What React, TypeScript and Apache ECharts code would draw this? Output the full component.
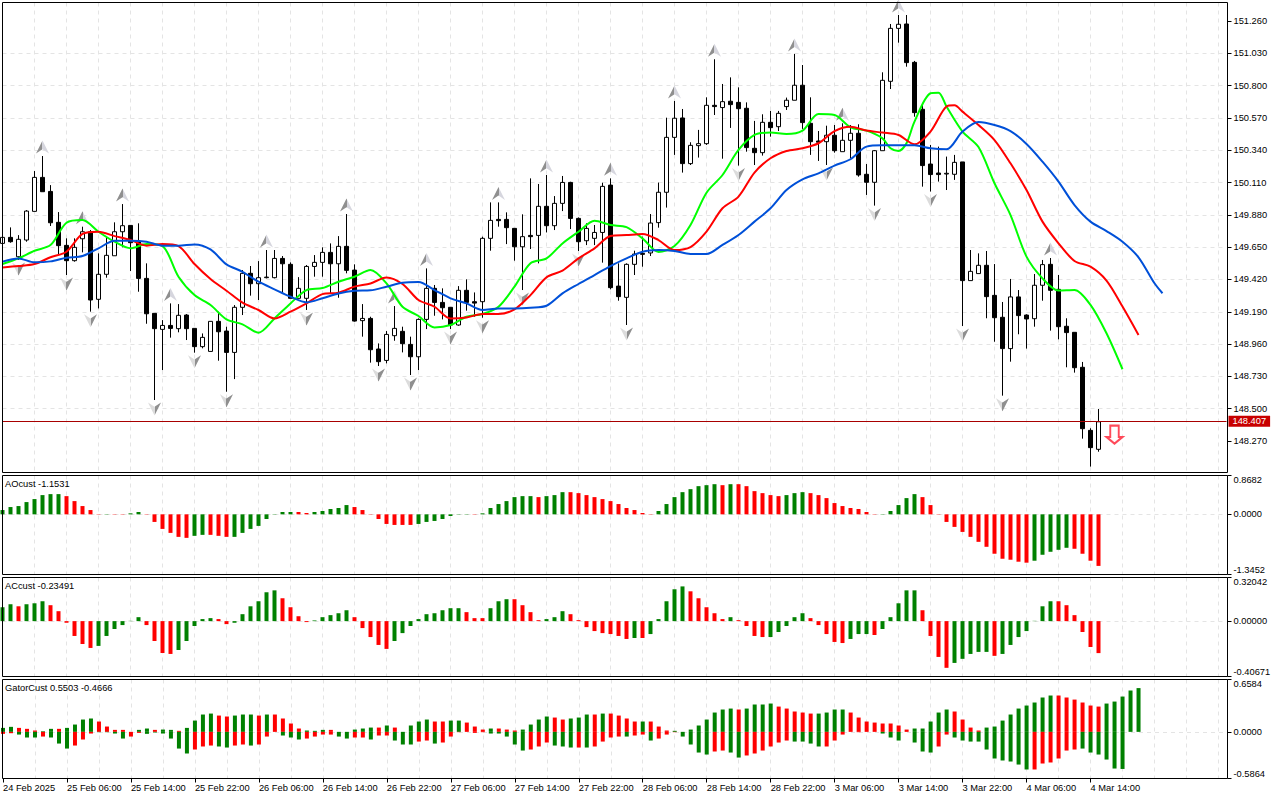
import React, { useEffect, useRef } from "react";
import * as echarts from "echarts";

const tickLabels = ["24 Feb 2025","25 Feb 06:00","25 Feb 14:00","25 Feb 22:00","26 Feb 06:00","26 Feb 14:00","26 Feb 22:00","27 Feb 06:00","27 Feb 14:00","27 Feb 22:00","28 Feb 06:00","28 Feb 14:00","28 Feb 22:00","3 Mar 06:00","3 Mar 14:00","3 Mar 22:00","4 Mar 06:00","4 Mar 14:00"];
const priceTicks = [151.26,151.03,150.8,150.57,150.34,150.11,149.88,149.65,149.42,149.19,148.96,148.73,148.5,148.27];
const lastPrice = 148.407;

const opens = [
149.677,149.720,149.582,149.701,149.905,150.147,150.047,149.827,149.663,149.554,
149.710,149.760,149.279,149.457,149.589,149.760,149.805,149.689,149.428,149.179,
149.065,149.093,149.070,149.167,149.072,148.942,148.908,149.122,149.053,148.901,
149.222,149.464,149.390,149.433,149.433,149.570,149.528,149.286,149.286,149.513,
149.542,149.613,149.532,149.656,149.487,149.127,149.143,148.925,148.844,149.020,
149.051,148.958,148.870,149.136,149.357,149.257,149.222,149.096,149.343,149.262,
149.262,149.713,149.848,149.848,149.784,149.653,149.734,149.734,149.941,149.803,
149.962,150.111,149.855,149.696,149.713,149.755,150.092,149.373,149.293,149.528,
149.606,149.609,149.825,150.041,150.432,150.570,150.245,150.373,150.387,150.660,
150.644,150.689,150.681,150.639,150.354,150.323,150.539,150.508,150.651,150.696,
150.803,150.532,150.406,150.401,150.447,150.330,150.411,150.461,150.169,150.112,
150.337,150.831,151.208,151.239,150.966,150.632,150.242,150.178,150.171,150.169,
150.257,149.412,149.462,149.521,149.307,149.151,148.928,149.296,149.167,149.141,
149.379,149.528,149.350,149.087,149.044,148.795,148.346,148.211];
const closes = [
149.720,149.689,149.706,149.907,150.147,150.045,149.824,149.661,149.554,149.649,
149.760,149.274,149.457,149.592,149.760,149.803,149.682,149.428,149.176,149.070,
149.093,149.072,149.165,149.070,148.942,149.008,149.122,149.048,148.901,149.222,
149.464,149.390,149.433,149.437,149.570,149.532,149.286,149.357,149.513,149.542,
149.613,149.532,149.656,149.485,149.124,149.143,148.920,148.835,149.029,149.072,
148.963,148.870,149.136,149.357,149.257,149.219,149.096,149.343,149.257,149.252,
149.713,149.841,149.839,149.789,149.653,149.725,149.725,149.941,149.803,149.962,
150.111,149.855,149.689,149.784,149.755,150.083,149.362,149.298,149.528,149.601,
149.599,149.822,150.041,150.432,150.568,150.245,150.375,150.387,150.660,150.651,
150.686,150.665,150.636,150.359,150.323,150.539,150.501,150.603,150.696,150.803,
150.537,150.401,150.397,150.447,150.337,150.411,150.461,150.164,150.112,150.337,
150.838,151.208,151.237,150.964,150.608,150.231,150.167,150.167,150.176,150.254,
149.412,149.478,149.521,149.298,149.148,148.928,149.296,149.163,149.139,149.379,
149.526,149.343,149.084,149.042,148.792,148.358,148.223,148.407];
const lows = [
149.672,149.682,149.559,149.689,149.905,150.045,149.801,149.594,149.452,149.547,
149.613,149.191,149.214,149.433,149.589,149.649,149.480,149.333,149.105,148.562,
148.775,149.006,149.044,148.989,148.899,148.930,148.908,148.842,148.621,148.711,
149.167,149.305,149.274,149.428,149.428,149.321,149.286,149.286,149.203,149.440,
149.440,149.321,149.290,149.464,149.120,149.013,148.828,148.804,148.823,148.984,
148.901,148.740,148.775,149.067,149.162,149.136,149.067,149.091,149.198,149.155,
149.148,149.625,149.796,149.672,149.554,149.345,149.637,149.535,149.755,149.772,
149.907,149.779,149.623,149.665,149.665,149.540,149.350,149.269,149.096,149.452,
149.511,149.587,149.789,149.932,150.307,150.181,150.235,150.288,150.378,150.591,
150.280,150.499,150.231,150.330,150.235,150.302,150.437,150.477,150.627,150.696,
150.492,150.307,150.264,150.235,150.323,150.330,150.283,150.152,150.022,149.946,
150.337,150.776,151.106,150.935,150.579,150.081,150.046,150.117,150.057,150.129,
149.089,149.412,149.462,149.144,148.977,148.593,148.835,149.030,148.928,149.084,
149.269,149.056,148.994,148.795,148.757,148.287,148.088,148.194];
const highs = [
149.725,149.791,149.736,149.914,150.192,150.299,150.092,149.900,149.713,149.713,
149.796,149.772,149.606,149.725,149.827,149.957,149.805,149.820,149.535,149.179,
149.131,149.250,149.245,149.174,149.072,149.036,149.122,149.191,149.084,149.238,
149.487,149.516,149.551,149.630,149.630,149.587,149.542,149.437,149.523,149.594,
149.649,149.677,149.729,149.886,149.528,149.245,149.155,148.965,149.053,149.231,
149.084,149.013,149.143,149.499,149.381,149.357,149.222,149.373,149.421,149.328,
149.725,149.969,149.969,149.898,149.784,149.884,150.140,150.100,150.164,150.014,
150.157,150.116,149.862,149.820,149.808,150.109,150.140,149.535,149.535,149.625,
149.725,149.886,150.110,150.572,150.691,150.634,150.397,150.485,150.717,150.988,
150.812,150.859,150.788,150.681,150.549,150.596,150.620,150.620,150.715,151.026,
150.947,150.717,150.477,150.515,150.520,150.532,150.520,150.525,150.242,150.342,
150.895,151.239,151.303,151.303,150.976,150.667,150.378,150.366,150.295,150.307,
150.257,149.630,149.606,149.623,149.530,149.260,149.424,149.345,149.172,149.459,
149.559,149.573,149.452,149.144,149.044,148.833,148.361,148.498];

// Alligator lines, read at every second bar, plus a few odd bars at sharp turns
const lipsEven = [149.530,149.570,149.625,149.665,149.824,149.843,149.760,149.689,149.642,149.672,149.658,149.440,149.309,149.238,149.136,149.101,149.041,149.143,149.250,149.345,149.359,149.404,149.440,149.487,149.392,149.226,149.160,149.079,149.096,149.155,149.174,149.226,149.369,149.535,149.570,149.677,149.760,149.839,149.808,149.793,149.713,149.616,149.658,149.808,150.038,150.164,150.342,150.449,150.466,150.456,150.480,150.598,150.591,150.504,150.480,150.425,150.335,150.544,150.746,150.651,150.473,150.363,150.105,149.879,149.583,149.428,149.341,149.345,149.239,149.037,148.781];
const lipsOdd = [[111,150.354],[113,150.390],[117,150.750]];
const teethEven = [149.506,149.516,149.530,149.578,149.618,149.744,149.760,149.729,149.701,149.661,149.672,149.658,149.530,149.423,149.340,149.255,149.203,149.143,149.191,149.250,149.316,149.326,149.369,149.392,149.435,149.388,149.274,149.226,149.143,149.150,149.174,149.174,149.207,149.309,149.435,149.483,149.570,149.642,149.729,149.736,149.744,149.701,149.630,149.651,149.761,149.927,150.010,150.181,150.283,150.335,150.354,150.390,150.477,150.508,150.480,150.466,150.449,150.382,150.473,150.651,150.615,150.520,150.413,150.247,150.057,149.832,149.678,149.552,149.511,149.412,149.227,149.025];
const teethOdd = [[119,150.660]];
const jawEven = [149.547,149.570,149.542,149.549,149.575,149.587,149.642,149.696,149.696,149.689,149.661,149.661,149.670,149.634,149.528,149.475,149.404,149.350,149.298,149.257,149.286,149.321,149.340,149.343,149.369,149.397,149.402,149.345,149.286,149.250,149.203,149.214,149.214,149.219,149.233,149.321,149.388,149.452,149.516,149.570,149.618,149.630,149.623,149.602,149.602,149.666,149.737,149.832,149.927,150.057,150.133,150.176,150.231,150.276,150.366,150.375,150.375,150.375,150.354,150.347,150.473,150.541,150.520,150.477,150.385,150.259,150.117,149.950,149.832,149.765,149.689,149.578,149.393];
const jawOdd = [[145,149.322]];

const upFractals = [5,10,15,21,33,43,49,53,62,68,76,84,89,99,105,112,131];
const downFractals = [2,8,11,19,24,28,38,47,51,56,60,65,72,78,92,103,109,116,120,125];
const sellArrow = { bar: 139, price: 148.316 };

const aoValues = [
.096,.163,.185,.274,.341,.43,.452,.452,.407,.296,
.185,.096,.007,-.007,.007,.007,.022,.052,.007,-.17,
-.326,-.415,-.504,-.526,-.481,-.459,-.459,-.481,-.504,-.504,
-.415,-.326,-.259,-.104,-.007,.052,.052,.052,.03,.052,
.074,.119,.141,.207,.163,.096,.007,-.104,-.215,-.237,
-.237,-.237,-.215,-.17,-.148,-.104,-.037,-.007,-.007,-.007,
.022,.141,.23,.296,.385,.407,.407,.385,.407,.43,
.496,.496,.474,.43,.385,.341,.296,.23,.141,.096,
.03,.007,.074,.23,.385,.496,.563,.63,.652,.674,
.652,.674,.674,.63,.519,.474,.43,.407,.43,.474,
.496,.474,.43,.363,.252,.185,.141,.119,.052,.007,
.007,.074,.207,.363,.452,.385,.207,.007,-.17,-.281,
-.393,-.504,-.615,-.726,-.881,-.993,-1.015,-1.059,-1.081,-1.037,
-.904,-.837,-.793,-.748,-.77,-.881,-1.037,-1.1531];
const aoColors = "ggggggggrr"+"rrrgrrggrr"+"rrrrggrrrg"+"gggggggrrg"+"ggggrrrrrr"+"rrgggggggr"+"gggggggrgg"+"grrrrrrrrr"+"rrgggggggg"+"rgrrrrrrgg"+"grrrrrrrrr"+"gggggrrrrr"+"rrrrrrrrrg"+"ggggrrrr";

const acValues = [
.102,.124,.109,.124,.131,.146,.117,.073,-.012,-.109,
-.168,-.197,-.182,-.109,-.058,-.029,.002,.029,-.029,-.146,
-.234,-.241,-.212,-.146,-.036,.015,.022,.015,-.022,-.012,
.051,.109,.146,.212,.226,.168,.102,.036,-.007,.005,
.029,.044,.058,.080,.029,-.051,-.117,-.175,-.204,-.146,
-.088,-.036,.015,.051,.058,.080,.095,.095,.066,.022,
.022,.095,.146,.161,.161,.117,.066,.007,.015,.029,
.073,.051,.007,-.044,-.073,-.088,-.095,-.109,-.131,-.124,
-.124,-.095,.015,.146,.234,.255,.219,.168,.102,.058,
.015,.029,.007,-.036,-.109,-.117,-.117,-.080,-.036,.029,
.058,.022,-.029,-.095,-.153,-.161,-.131,-.095,-.095,-.102,
-.058,.029,.131,.226,.226,.080,-.109,-.263,-.343,-.307,
-.277,-.241,-.226,-.226,-.255,-.241,-.175,-.117,-.073,.002,
.109,.146,.146,.117,.044,-.080,-.190,-.23491];
const acColors = "ggrgggrrrr"+"rrggggggrr"+"rrgggggrrg"+"gggggrrrrg"+"ggggrrrrrg"+"ggggggggrr"+"rgggrrrrgg"+"grrrrrrrrg"+"rgggggrrrr"+"rgrrrrgggg"+"grrrrrgggr"+"gggggrrrrg"+"ggggrggggg"+"ggrrrrrr";

const gatorUp = [
.05,.063,.05,.038,.017,.008,.038,.038,.05,.092,
.155,.168,.13,.067,.025,.025,0,.025,.042,.025,
.029,.025,.013,.05,.142,.218,.23,.205,.193,.205,
.218,.218,.205,.218,.218,.168,.105,.042,.017,.013,
.025,.025,0,0,.029,.042,.054,.054,.08,.054,
0,.08,.13,.155,.13,.13,.142,.142,.117,.067,
.029,.042,.042,.029,.017,.029,.092,.155,.193,.18,
.155,.168,.18,.218,.218,.23,.23,.205,.168,.13,
.13,.13,.067,.017,.013,0,.029,.08,.155,.243,
.281,.293,.281,.293,.344,.344,.356,.318,.293,.256,
.243,.23,.23,.243,.281,.281,.243,.18,.13,.117,
.105,.105,.08,.029,.042,.042,.13,.243,.281,.256,
.155,.054,.017,.054,.067,.142,.218,.293,.331,.369,
.432,.457,.457,.432,.406,.369,.331,.318,.356,.381,.444,.52,.5503];
const gatorUpColors = "ggrrrggrgg"+"ggrrrrgggr"+"ggrggggrrg"+"ggrgrrrrgg"+"grgggggrgr"+"ggggrrggrr"+"rgrrrggggr"+"rgggrgrrrr"+"grrrgggggg"+"ggrggggrrr"+"rrggggrrrr"+"rrrrgggggr"+"rrrggggggg"+"ggrrrrrrggggg";
const gatorDown = [
-.025,-.017,-.034,-.071,-.071,-.059,-.071,-.147,-.21,-.172,
-.096,-.021,-.004,-.004,-.021,-.084,-.059,-.013,-.025,-.008,
-.021,-.084,-.21,-.272,-.222,-.184,-.172,-.184,-.197,-.172,
-.159,-.172,-.159,-.059,0,-.046,-.071,-.096,-.084,-.059,
-.034,-.034,-.059,-.084,-.071,-.071,-.096,-.046,-.046,-.109,
-.159,-.159,-.122,-.109,-.147,-.134,-.059,-.004,0,-.013,
-.004,-.021,-.021,-.059,-.159,-.235,-.222,-.184,-.134,-.172,
-.184,-.197,-.197,-.197,-.184,-.122,-.071,-.059,-.059,-.046,
-.034,-.109,-.084,-.034,-.004,-.059,-.159,-.26,-.285,-.247,
-.235,-.26,-.323,-.297,-.272,-.235,-.184,-.134,-.109,-.122,
-.122,-.147,-.184,-.184,-.109,-.034,0,-.004,0,0,
-.021,-.071,-.109,0,-.134,-.247,-.26,-.184,-.034,-.071,
-.109,-.122,-.122,-.222,-.335,-.36,-.373,-.411,-.473,-.473,
-.398,-.385,-.335,-.235,-.222,-.21,-.26,-.285,-.348,-.461,-.4666];
const gatorDownColors = "rrgggrgggr"+"rrggggrrgg"+"ggggrrrggr"+"rgrrrgggrr"+"rrggrrgrrg"+"ggrrgrrrrr"+"rgggggrrrg"+"ggrgrrrrgr"+"rgrrrggggr"+"rggrrrrrrg"+"gggrrrrrrr"+"gggrgggrrg"+"gggggggggr"+"rrrrrgggggg";

const SLOTS = 154;
const categories = Array.from({ length: SLOTS }, (_, i) => (i % 8 === 0 && tickLabels[i / 8]) || "");
const FONT = "'Liberation Sans', Arial, sans-serif";
const FS = 9.3;
const GREEN = "#008000";
const RED = "#ff0000";
const GRID = "#e4e4e4";
const LEFT = 2.5;
const WIDTH = 1224;
const FRAME_RIGHT = 1227.5;
const panes = [
  { top: 2.5, bottom: 472.5, min: 148.046, max: 151.392, ticks: priceTicks, dec: 3 },
  { top: 475.5, bottom: 574.5, min: -1.3452, max: 0.8682, ticks: [-1.3452, 0, 0.8682], dec: 4 },
  { top: 577.5, bottom: 676.5, min: -0.40671, max: 0.32042, ticks: [-0.40671, 0, 0.32042], dec: 5 },
  { top: 679.5, bottom: 778.5, min: -0.5864, max: 0.6584, ticks: [-0.5864, 0, 0.6584], dec: 4 },
];
const titles = [
  { text: "AOcust -1.1531", top: 479 },
  { text: "ACcust -0.23491", top: 581 },
  { text: "GatorCust 0.5503 -0.4666", top: 683 },
];
const merged = (even: number[], odd: number[][]) =>
  [...even.map((v, i) => [i * 2, v]), ...odd].sort((a, b) => a[0] - b[0]);
const colored = (vals: number[], flags: string) =>
  vals.map((v, i) => ({ value: v, itemStyle: { color: flags[i] === "g" ? GREEN : RED } }));
const barSeries = (idx: number, vals: number[], flags: string, extra: any = {}) => ({
  type: "bar", xAxisIndex: idx, yAxisIndex: idx, barWidth: 4, data: colored(vals, flags), silent: true, ...extra,
});
const lineSeries = (data: number[][], color: string) => ({
  type: "line", xAxisIndex: 0, yAxisIndex: 0, data, showSymbol: false, symbol: "none", silent: true,
  smooth: 0.3, lineStyle: { color, width: 2 }, z: 4,
});
const arrowSeries = (bars: number[], source: number[], path: string, stops: string[], offset: number) => ({
  type: "scatter", xAxisIndex: 0, yAxisIndex: 0, silent: true, z: 3,
  symbol: path, symbolSize: [13, 13], symbolOffset: [0, offset],
  data: bars.map((b) => [b, source[b]]),
  itemStyle: {
    opacity: 1,
    color: {
      type: "linear", x: 0, y: 0, x2: 1, y2: 0,
      colorStops: [
        { offset: 0, color: stops[0] }, { offset: 0.5, color: stops[0] },
        { offset: 0.5, color: stops[1] }, { offset: 1, color: stops[1] },
      ],
    },
  },
});

export default function App() {
  const ref = useRef<HTMLDivElement>(null);
  useEffect(() => {
    const chart = echarts.init(ref.current!, undefined, { renderer: "svg" });
    const showTick = (i: number) => i % 8 === 0 && categories[i] !== "";
    chart.setOption({
      animation: false,
      backgroundColor: "#fff",
      title: titles.map((t) => ({
        text: t.text, left: 5, top: t.top, padding: 0,
        textStyle: { fontSize: FS, fontWeight: "normal", color: "#000", fontFamily: FONT },
      })),
      graphic: panes.map((p) => ({
        type: "rect", z: 10, silent: true,
        shape: { x: LEFT, y: p.top, width: FRAME_RIGHT - LEFT, height: p.bottom - p.top },
        style: { fill: "none", stroke: "#000", lineWidth: 1 },
      })),
      grid: panes.map((p) => ({
        left: LEFT, width: WIDTH, top: p.top, height: p.bottom - p.top, show: false,
      })),
      xAxis: panes.map((_, i) => ({
        type: "category", gridIndex: i, data: categories, boundaryGap: false, position: "bottom",
        axisLine: { show: false, onZero: false },
        axisTick: { show: i === 3, interval: showTick, length: 4, lineStyle: { color: "#000" } },
        axisLabel: {
          show: i === 3, interval: showTick, align: "left", margin: 5, color: "#000",
          fontSize: FS, fontFamily: FONT, hideOverlap: false,
        },
        splitLine: {
          show: true, showMinLine: false, interval: (k: number) => k % 4 === 0,
          lineStyle: { color: GRID, type: [4, 4], width: 1 },
        },
      })),
      yAxis: panes.map((p, i) => ({
        type: "value", gridIndex: i, position: "right", offset: 1, min: p.min, max: p.max, scale: true,
        axisLine: { show: false },
        axisTick: { show: true, length: 4, customValues: p.ticks, lineStyle: { color: "#000" } },
        axisLabel: {
          show: true, customValues: p.ticks, margin: 6, color: "#000", fontSize: FS, fontFamily: FONT,
          formatter: (v: number) => v.toFixed(p.dec),
          showMinLabel: true, showMaxLabel: true,
          ...(i > 0 ? { verticalAlignMaxLabel: "top", verticalAlignMinLabel: "bottom" } : {}),
        },
        splitLine: {
          show: true, showMinLine: false, showMaxLine: false,
          lineStyle: { color: GRID, type: [4, 4], width: 1 },
        },
      })),
      series: [
        {
          type: "candlestick", xAxisIndex: 0, yAxisIndex: 0, barWidth: 5, silent: true,
          data: opens.map((o, i) => [o, closes[i], lows[i], highs[i]]),
          itemStyle: { color: "#fff", color0: "#000", borderColor: "#000", borderColor0: "#000", borderWidth: 1 },
          markLine: {
            symbol: "none", silent: true, animation: false,
            lineStyle: { color: "#a80000", width: 1, type: "solid" },
            data: [{ yAxis: lastPrice }],
            label: {
              show: true, position: "end", distance: 2, formatter: lastPrice.toFixed(3),
              color: "#fff", backgroundColor: "#c80000", padding: [1, 4, 1, 4], fontSize: FS, fontFamily: FONT,
            },
          },
        },
        arrowSeries(upFractals, highs, "path://M6 0 L12 12 L6 8 L0 12 Z", ["#8f8f8f", "#d6d6de"], -9),
        arrowSeries(downFractals, lows, "path://M0 0 L6 4 L12 0 L6 12 Z", ["#dcdcdc", "#8f8f8f"], 9),
        lineSeries(merged(lipsEven, lipsOdd), "#00ff00"),
        lineSeries(merged(teethEven, teethOdd), "#ff0000"),
        lineSeries(merged(jawEven, jawOdd), "#0050d8"),
        {
          type: "scatter", xAxisIndex: 0, yAxisIndex: 0, silent: true, z: 5,
          symbol: "path://M4 0 H13 V12 H17 L8.5 19 L0 12 H4 Z", symbolSize: [16, 18],
          data: [[sellArrow.bar, sellArrow.price]],
          itemStyle: { color: "#fff", borderColor: "#ff4a5a", borderWidth: 2, opacity: 1 },
        },
        barSeries(1, aoValues, aoColors),
        barSeries(2, acValues, acColors),
        barSeries(3, gatorUp, gatorUpColors, { barGap: "-100%" }),
        barSeries(3, gatorDown, gatorDownColors, { barGap: "-100%" }),
      ],
    });
    return () => chart.dispose();
  }, []);
  return (
    <div ref={ref} style={{ position: "fixed", left: 0, top: 0, width: 1280, height: 800, background: "#fff" }} />
  );
}
